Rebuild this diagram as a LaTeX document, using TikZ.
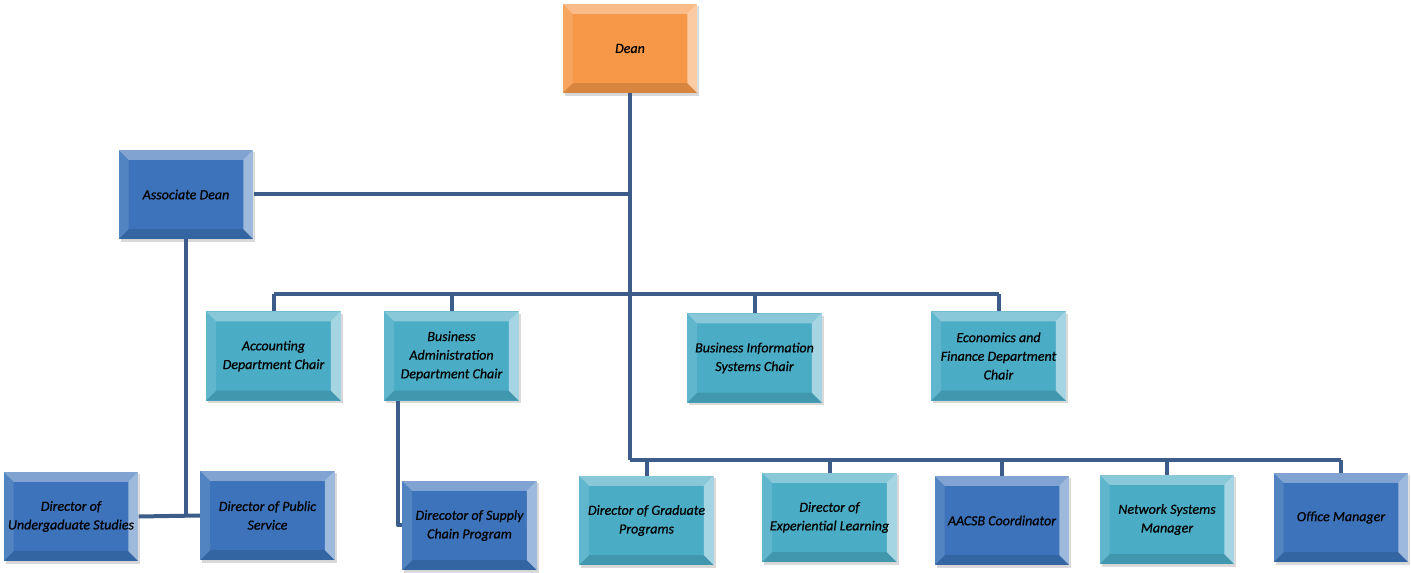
\documentclass[tikz,border=0pt]{standalone}
\usepackage{fontspec}
\setmainfont{Carlito}[ItalicFeatures={FakeBold=0.6}]
\usepackage{xcolor}
\usepackage{tikz}
\usetikzlibrary{calc,shadows}

\definecolor{deanorange}{RGB}{247,152,72}
\definecolor{boxblue}{RGB}{60,115,186}
\definecolor{boxcyan}{RGB}{75,172,198}
\definecolor{linkblue}{RGB}{60,92,138}

\tikzset{
  orgbox/.style={draw=none, minimum width=101pt, minimum height=67pt, inner sep=1pt,
    align=center, font=\itshape\fontsize{10.5}{14}\selectfont,
    drop shadow={opacity=0.3, shadow xshift=1.5pt, shadow yshift=-2pt},
    path picture={
      \fill[white,opacity=0.35] (path picture bounding box.north west) -- (path picture bounding box.north east)
        -- ([xshift=-7.5pt,yshift=-7.5pt]path picture bounding box.north east) -- ([xshift=7.5pt,yshift=-7.5pt]path picture bounding box.north west) -- cycle;
      \fill[white,opacity=0.12] (path picture bounding box.north west) -- ([xshift=7.5pt,yshift=-7.5pt]path picture bounding box.north west)
        -- ([xshift=7.5pt,yshift=7.5pt]path picture bounding box.south west) -- (path picture bounding box.south west) -- cycle;
      \fill[white,opacity=0.5] (path picture bounding box.north east) -- ([xshift=-7.5pt,yshift=-7.5pt]path picture bounding box.north east)
        -- ([xshift=-7.5pt,yshift=7.5pt]path picture bounding box.south east) -- (path picture bounding box.south east) -- cycle;
      \fill[black,opacity=0.12] (path picture bounding box.south west) -- ([xshift=7.5pt,yshift=7.5pt]path picture bounding box.south west)
        -- ([xshift=-7.5pt,yshift=7.5pt]path picture bounding box.south east) -- (path picture bounding box.south east) -- cycle;
    }},
  deanbox/.style={orgbox, fill=deanorange},
  bluebox/.style={orgbox, fill=boxblue},
  cyanbox/.style={orgbox, fill=boxcyan},
  link/.style={draw=linkblue, line width=3pt, line join=round}
}

\begin{document}
\begin{tikzpicture}[x=0.75pt,y=0.75pt,yscale=-1,xscale=1]
	\useasboundingbox (0,0) rectangle (1411,573);
	
	% Boxes
	\node[deanbox] (dean) at (630,48.5) {Dean};
	\node[bluebox] (assoc) at (186,194.5) {Associate Dean};
	
	\node[cyanbox] (acct) at (273.5,356) {Accounting\\Department Chair};
	\node[cyanbox] (busadm) at (451.5,356) {Business\\Administration\\Department Chair};
	\node[cyanbox] (bis) at (754.5,358) {Business Information\\Systems Chair};
	\node[cyanbox] (econ) at (998.5,356) {Economics and\\Finance Department\\Chair};
	
	\node[bluebox] (undergrad) at (71,516.5) {Director of\\Undergaduate Studies};
	\node[bluebox] (public) at (267.5,515.5) {Director of Public\\Service};
	\node[bluebox] (supply) at (469.5,525.5) {Direcotor of Supply\\Chain Program};
	
	\node[cyanbox] (grad) at (646.5,520.5) {Director of Graduate\\Programs};
	\node[cyanbox] (exper) at (829.5,517.5) {Director of\\Experiential Learning};
	\node[bluebox] (aacsb) at (1002,520.5) {AACSB Coordinator};
	\node[cyanbox] (network) at (1167,519.5) {Network Systems\\Manager};
	\node[bluebox] (office) at (1341,517.5) {Office Manager};
	
	% Bus points
	\coordinate (midbus) at (630,294);
	\coordinate (lowbus) at (630,460);
	
	% Connectors
	\draw[link] (dean.south) -- (lowbus);
	\draw[link] (assoc.east) -- (assoc.east -| dean.south);
	\draw[link] (acct.north |- midbus) -- (econ.north |- midbus);
	\foreach \n in {acct,busadm,bis,econ}
		\draw[link] (\n.north) -- (\n.north |- midbus);
	\draw[link] (lowbus) -- (office.north |- lowbus);
	\foreach \n in {grad,exper,aacsb,network,office}
		\draw[link] (\n.north) -- (\n.north |- lowbus);
	\draw[link] (assoc.south) -- (assoc.south |- undergrad.east);
	\draw[link] (undergrad.east) -- (public.west);
	\draw[link] ($(busadm.south west)+(14,0)$) |- (supply.west);
\end{tikzpicture}
\end{document}
